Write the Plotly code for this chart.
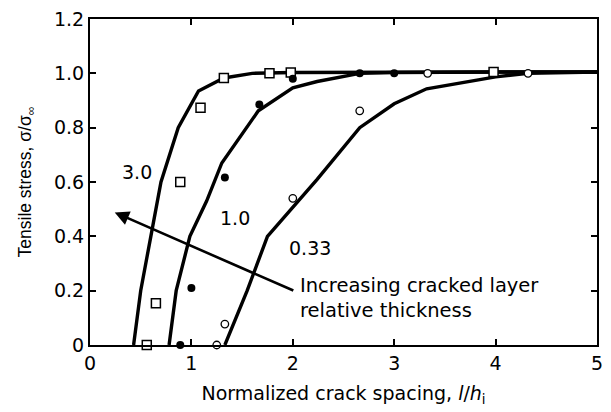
import plotly.graph_objects as go

# Curves (model)
c30_x = [0.43, 0.50, 0.60, 0.70, 0.87, 1.07, 1.32, 1.60, 2.0, 3.0, 4.0, 5.0]
c30_y = [0.0, 0.20, 0.40, 0.60, 0.80, 0.935, 0.983, 1.0, 1.003, 1.005, 1.005, 1.005]
c10_x = [0.78, 0.85, 0.985, 1.15, 1.30, 1.66, 2.0, 2.24, 2.66, 3.0, 4.0, 5.0]
c10_y = [0.0, 0.20, 0.40, 0.53, 0.67, 0.862, 0.947, 0.97, 1.0, 1.003, 1.005, 1.005]
c033_x = [1.33, 1.55, 1.75, 2.05, 2.24, 2.66, 3.0, 3.32, 3.58, 4.0, 4.32, 5.0]
c033_y = [0.0, 0.20, 0.40, 0.53, 0.61, 0.80, 0.888, 0.943, 0.96, 0.987, 1.0, 1.005]

# Data points
sq_x = [0.56, 0.65, 0.89, 1.09, 1.32, 1.77, 1.98, 3.98]
sq_y = [0.0, 0.154, 0.60, 0.873, 0.983, 1.0, 1.003, 1.005]
fc_x = [0.89, 1.0, 1.33, 1.67, 2.0, 2.66, 3.0]
fc_y = [0.0, 0.21, 0.617, 0.885, 0.98, 1.0, 1.0]
oc_x = [1.25, 1.33, 2.0, 2.66, 3.33, 4.32]
oc_y = [0.0, 0.077, 0.54, 0.862, 1.0, 1.0]

x_ticks = [0, 1, 2, 3, 4, 5]
y_ticks = [0, 0.2, 0.4, 0.6, 0.8, 1.0, 1.2]
y_ticktext = ["0", "0.2", "0.4", "0.6", "0.8", "1.0", "1.2"]

fig = go.Figure()
for cx, cy in [(c30_x, c30_y), (c10_x, c10_y), (c033_x, c033_y)]:
    fig.add_trace(go.Scatter(x=cx, y=cy, mode="lines",
                             line=dict(color="black", width=3.4),
                             showlegend=False, hoverinfo="skip"))

fig.add_trace(go.Scatter(x=sq_x, y=sq_y, mode="markers",
                         marker=dict(symbol="square", size=9, color="white",
                                     line=dict(color="black", width=1.5)),
                         showlegend=False, cliponaxis=False))
fig.add_trace(go.Scatter(x=fc_x, y=fc_y, mode="markers",
                         marker=dict(symbol="circle", size=8, color="black"),
                         showlegend=False, cliponaxis=False))
fig.add_trace(go.Scatter(x=oc_x, y=oc_y, mode="markers",
                         marker=dict(symbol="circle", size=7.5, color="white",
                                     line=dict(color="black", width=1.3)),
                         showlegend=False, cliponaxis=False))

hfont = dict(family="DejaVu Sans, Liberation Sans, sans-serif", color="black")
vfont = dict(family="Liberation Sans, Arial, sans-serif", color="black")

# curve labels
for txt, x, y in [("3.0", 0.46, 0.635), ("1.0", 1.43, 0.466), ("0.33", 2.17, 0.356)]:
    fig.add_annotation(x=x, y=y, text=txt, showarrow=False,
                       font=dict(size=19, **hfont))

fig.add_annotation(x=2.05, y=0.172, xanchor="left", align="left",
                   text="Increasing cracked layer<br>relative thickness",
                   showarrow=False, font=dict(size=19.5, **hfont))

# arrow
fig.add_annotation(x=0.244, y=0.488, ax=2.02, ay=0.198, axref="x", ayref="y",
                   xref="x", yref="y", text="", showarrow=True,
                   arrowhead=2, arrowsize=1.1, arrowwidth=2.6, arrowcolor="black")

fig.update_layout(
    width=611, height=412,
    margin=dict(l=90, r=8, t=18, b=67),
    plot_bgcolor="white", paper_bgcolor="white",
    font=hfont,
    xaxis=dict(range=[0, 5], tickvals=x_ticks, ticks="inside", ticklen=6,
               tickwidth=1.5, tickcolor="black", showline=True, linecolor="black",
               linewidth=2, mirror="ticks", showgrid=False, zeroline=False,
               tickfont=dict(size=19, **hfont),
               title=dict(text="Normalized crack spacing, <i>l</i>/<i>h</i><sub>i</sub>",
                          font=dict(size=19, **hfont), standoff=14)),
    yaxis=dict(range=[0, 1.2], tickvals=y_ticks, ticktext=y_ticktext,
               ticks="inside", ticklen=6, tickwidth=1.5, tickcolor="black",
               showline=True, linecolor="black", linewidth=2, mirror="ticks",
               showgrid=False, zeroline=False,
               tickfont=dict(size=19, **hfont),
               title=dict(text="Tensile stress, σ/σ<sub>∞</sub>",
                          font=dict(size=17.5, **vfont), standoff=18)),
)

fig.write_html("out.html")
